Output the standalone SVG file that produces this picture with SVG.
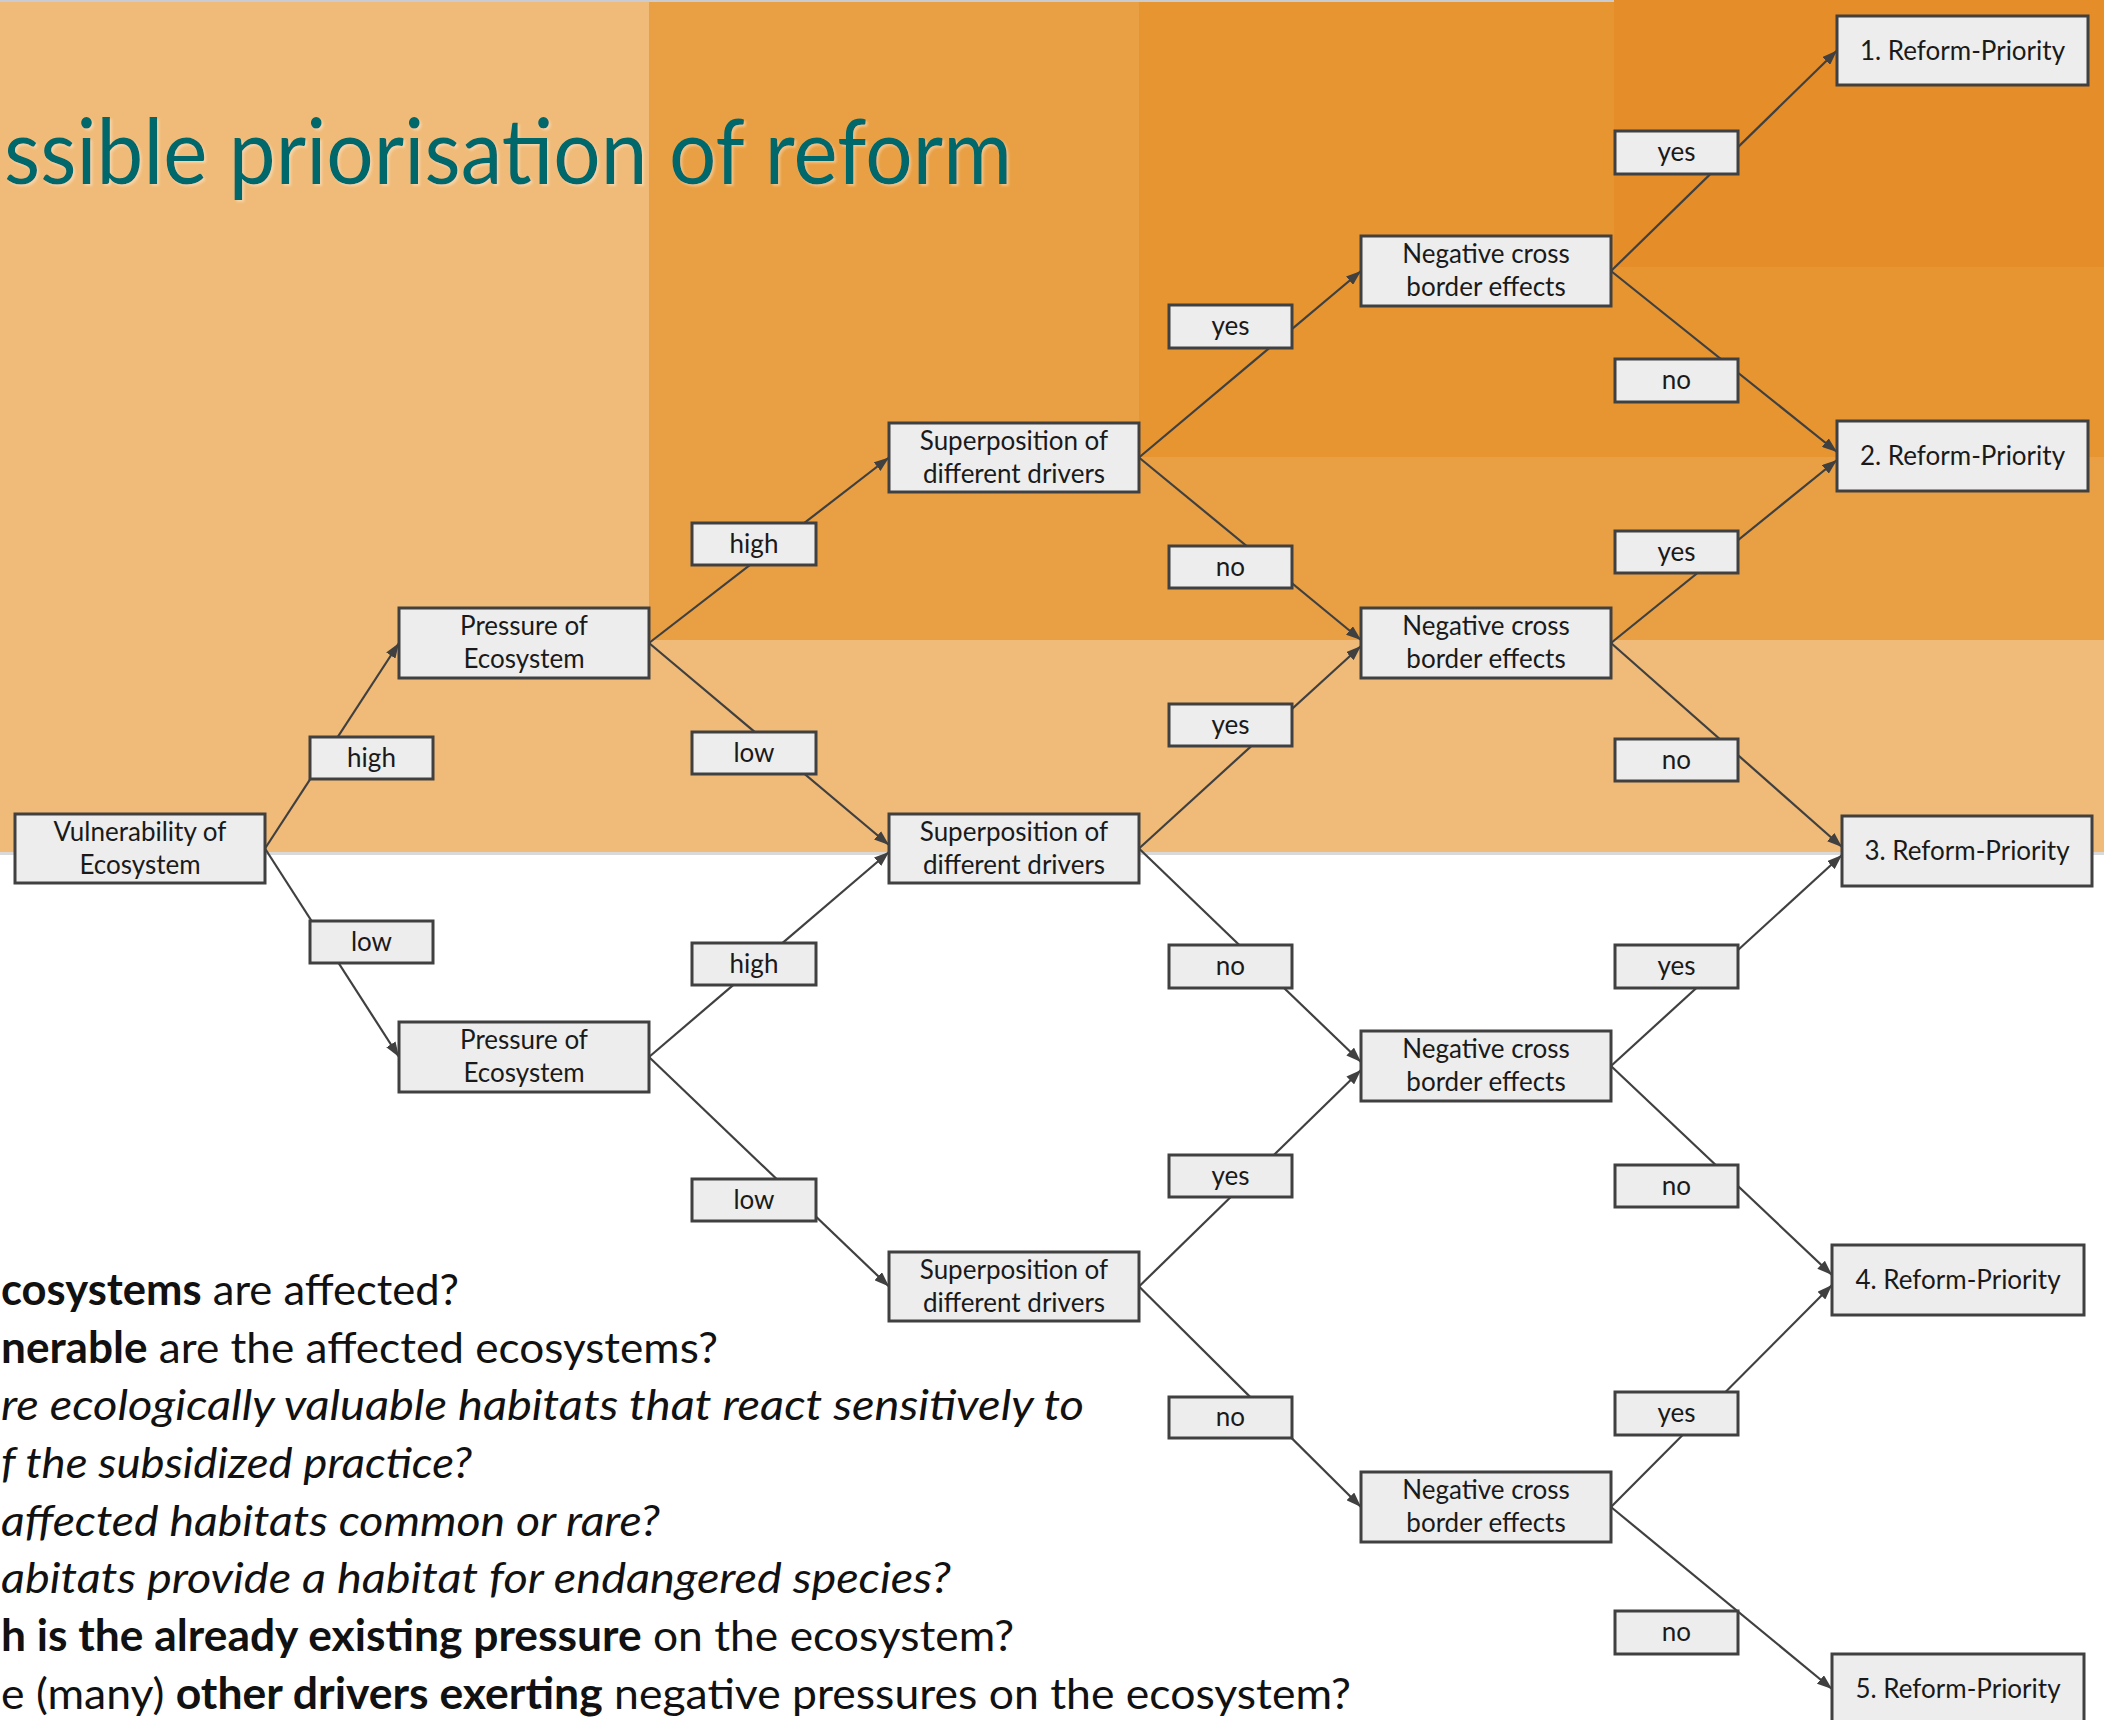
<svg xmlns="http://www.w3.org/2000/svg" width="2104" height="1720" viewBox="0 0 2104 1720">
  <defs>
    <style>
      .node rect { fill: #EDEDED; stroke: #404040; stroke-width: 3; }
      .lbl rect { fill: #EDEDED; stroke: #404040; stroke-width: 3; }
      .node text, .lbl text { font-family: Lato, "Open Sans", sans-serif; font-size: 26px; fill: #1A1A1A; text-anchor: middle; }
      .edge { stroke: #404040; stroke-width: 2.2; fill: none; marker-end: url(#arrow); }
      .title { font-family: Lato, "Open Sans", sans-serif; font-size: 92px; fill: #00676A; }
      .bullet { font-family: Lato, "Open Sans", sans-serif; font-size: 43px; fill: #111111; }
      .b { font-weight: bold; }
      .i { font-style: italic; }
    </style>
    <marker id="arrow" markerUnits="userSpaceOnUse" viewBox="0 0 15 11" markerWidth="15" markerHeight="11" refX="15" refY="5.5" orient="auto">
      <path d="M0,0 L15,5.5 L0,11 z" fill="#404040"/>
    </marker>
    <filter id="soft" x="-5%" y="-20%" width="110%" height="140%">
      <feDropShadow dx="2" dy="2" stdDeviation="1" flood-color="#FFFFFF" flood-opacity="0.35"/>
    </filter>
  </defs>

  <!-- background bands -->
  <g id="background">
    <rect x="0" y="0" width="2104" height="1720" fill="#FFFFFF"/>
    <rect x="0" y="0" width="2104" height="852" fill="#F0BB78"/>
    <rect x="0" y="852" width="2104" height="3" fill="#D9D9D9"/>
    <rect x="649" y="0" width="1455" height="640" fill="#E9A044"/>
    <rect x="1139" y="0" width="965" height="457" fill="#E79531"/>
    <rect x="1614" y="0" width="490" height="267" fill="#E58D28"/>
    <rect x="0" y="0" width="1614" height="2" fill="#C9CDD1"/>
  </g>

  <!-- title -->
  <text class="title" x="1012" y="184" text-anchor="end" textLength="1008" lengthAdjust="spacingAndGlyphs" filter="url(#soft)">ssible priorisation of reform</text>

  <!-- guiding questions -->
  <g id="questions">
    <text class="bullet" x="1" y="1305" textLength="458" lengthAdjust="spacingAndGlyphs"><tspan class="b">cosystems</tspan> are affected?</text>
    <text class="bullet" x="1" y="1363" textLength="717" lengthAdjust="spacingAndGlyphs"><tspan class="b">nerable</tspan> are the affected ecosystems?</text>
    <text class="bullet i" x="1" y="1420" textLength="1083" lengthAdjust="spacingAndGlyphs">re ecologically valuable habitats that react sensitively to</text>
    <text class="bullet i" x="1" y="1478" textLength="471" lengthAdjust="spacingAndGlyphs">f the subsidized practice?</text>
    <text class="bullet i" x="1" y="1536" textLength="659" lengthAdjust="spacingAndGlyphs">affected habitats common or rare?</text>
    <text class="bullet i" x="1" y="1593" textLength="950" lengthAdjust="spacingAndGlyphs">abitats provide a habitat for endangered species?</text>
    <text class="bullet" x="1" y="1651" textLength="1013" lengthAdjust="spacingAndGlyphs"><tspan class="b">h is the already existing pressure</tspan> on the ecosystem?</text>
    <text class="bullet" x="1" y="1709" textLength="1350" lengthAdjust="spacingAndGlyphs">e (many) <tspan class="b">other drivers exerting</tspan> negative pressures on the ecosystem?</text>
  </g>

  <!-- connectors -->
  <g id="connectors">
    <line class="edge" x1="265" y1="848.5" x2="399" y2="643"/>
    <line class="edge" x1="265" y1="848.5" x2="399" y2="1057"/>
    <line class="edge" x1="649" y1="643" x2="889" y2="457.5"/>
    <line class="edge" x1="649" y1="643" x2="889" y2="845"/>
    <line class="edge" x1="649" y1="1057" x2="889" y2="852"/>
    <line class="edge" x1="649" y1="1057" x2="889" y2="1286.5"/>
    <line class="edge" x1="1139" y1="457.5" x2="1361" y2="271"/>
    <line class="edge" x1="1139" y1="457.5" x2="1361" y2="640"/>
    <line class="edge" x1="1139" y1="848.5" x2="1361" y2="646"/>
    <line class="edge" x1="1139" y1="848.5" x2="1361" y2="1062"/>
    <line class="edge" x1="1139" y1="1286.5" x2="1361" y2="1070"/>
    <line class="edge" x1="1139" y1="1286.5" x2="1361" y2="1507"/>
    <line class="edge" x1="1611" y1="271" x2="1837" y2="50.5"/>
    <line class="edge" x1="1611" y1="271" x2="1837" y2="452"/>
    <line class="edge" x1="1611" y1="643" x2="1837" y2="460"/>
    <line class="edge" x1="1611" y1="643" x2="1842" y2="847"/>
    <line class="edge" x1="1611" y1="1066" x2="1842" y2="855"/>
    <line class="edge" x1="1611" y1="1066" x2="1832" y2="1275"/>
    <line class="edge" x1="1611" y1="1507" x2="1832" y2="1285"/>
    <line class="edge" x1="1611" y1="1507" x2="1832" y2="1689"/>
  </g>

  <!-- edge labels -->
  <g id="edge-labels">
    <g class="lbl" id="lbl-v-high"><rect x="310" y="737" width="123" height="42"/><text x="371.5" y="767">high</text></g>
    <g class="lbl" id="lbl-v-low"><rect x="310" y="921" width="123" height="42"/><text x="371.5" y="951">low</text></g>

    <g class="lbl" id="lbl-p1-high"><rect x="692" y="523" width="124" height="42"/><text x="754" y="553">high</text></g>
    <g class="lbl" id="lbl-p1-low"><rect x="692" y="732" width="124" height="42"/><text x="754" y="762">low</text></g>
    <g class="lbl" id="lbl-p2-high"><rect x="692" y="943" width="124" height="42"/><text x="754" y="973">high</text></g>
    <g class="lbl" id="lbl-p2-low"><rect x="692" y="1179" width="124" height="42"/><text x="754" y="1209">low</text></g>

    <g class="lbl" id="lbl-s1-yes"><rect x="1169" y="305" width="123" height="43"/><text x="1230.5" y="335">yes</text></g>
    <g class="lbl" id="lbl-s1-no"><rect x="1169" y="546" width="123" height="42"/><text x="1230.5" y="576">no</text></g>
    <g class="lbl" id="lbl-s2-yes"><rect x="1169" y="704" width="123" height="42"/><text x="1230.5" y="734">yes</text></g>
    <g class="lbl" id="lbl-s2-no"><rect x="1169" y="945" width="123" height="43"/><text x="1230.5" y="975">no</text></g>
    <g class="lbl" id="lbl-s3-yes"><rect x="1169" y="1155" width="123" height="42"/><text x="1230.5" y="1185">yes</text></g>
    <g class="lbl" id="lbl-s3-no"><rect x="1169" y="1397" width="123" height="41"/><text x="1230.5" y="1426">no</text></g>

    <g class="lbl" id="lbl-n1-yes"><rect x="1615" y="131" width="123" height="43"/><text x="1676.5" y="161">yes</text></g>
    <g class="lbl" id="lbl-n1-no"><rect x="1615" y="359" width="123" height="43"/><text x="1676.5" y="389">no</text></g>
    <g class="lbl" id="lbl-n2-yes"><rect x="1615" y="531" width="123" height="42"/><text x="1676.5" y="561">yes</text></g>
    <g class="lbl" id="lbl-n2-no"><rect x="1615" y="739" width="123" height="42"/><text x="1676.5" y="769">no</text></g>
    <g class="lbl" id="lbl-n3-yes"><rect x="1615" y="945" width="123" height="43"/><text x="1676.5" y="975">yes</text></g>
    <g class="lbl" id="lbl-n3-no"><rect x="1615" y="1165" width="123" height="42"/><text x="1676.5" y="1195">no</text></g>
    <g class="lbl" id="lbl-n4-yes"><rect x="1615" y="1392" width="123" height="43"/><text x="1676.5" y="1422">yes</text></g>
    <g class="lbl" id="lbl-n4-no"><rect x="1615" y="1611" width="123" height="43"/><text x="1676.5" y="1641">no</text></g>
  </g>

  <!-- decision nodes -->
  <g class="node" id="vulnerability"><rect x="15" y="814" width="250" height="69"/><text x="140" y="840.5">Vulnerability of</text><text x="140" y="873.5">Ecosystem</text></g>

  <g class="node" id="pressure-high"><rect x="399" y="608" width="250" height="70"/><text x="524" y="635">Pressure of</text><text x="524" y="668">Ecosystem</text></g>
  <g class="node" id="pressure-low"><rect x="399" y="1022" width="250" height="70"/><text x="524" y="1049">Pressure of</text><text x="524" y="1082">Ecosystem</text></g>

  <g class="node" id="superposition-1"><rect x="889" y="423" width="250" height="69"/><text x="1014" y="449.5">Superposition of</text><text x="1014" y="482.5">different drivers</text></g>
  <g class="node" id="superposition-2"><rect x="889" y="814" width="250" height="69"/><text x="1014" y="840.5">Superposition of</text><text x="1014" y="873.5">different drivers</text></g>
  <g class="node" id="superposition-3"><rect x="889" y="1252" width="250" height="69"/><text x="1014" y="1278.5">Superposition of</text><text x="1014" y="1311.5">different drivers</text></g>

  <g class="node" id="crossborder-1"><rect x="1361" y="236" width="250" height="70"/><text x="1486" y="263">Negative cross</text><text x="1486" y="296">border effects</text></g>
  <g class="node" id="crossborder-2"><rect x="1361" y="608" width="250" height="70"/><text x="1486" y="635">Negative cross</text><text x="1486" y="668">border effects</text></g>
  <g class="node" id="crossborder-3"><rect x="1361" y="1031" width="250" height="70"/><text x="1486" y="1058">Negative cross</text><text x="1486" y="1091">border effects</text></g>
  <g class="node" id="crossborder-4"><rect x="1361" y="1472" width="250" height="70"/><text x="1486" y="1499">Negative cross</text><text x="1486" y="1532">border effects</text></g>

  <!-- outcome nodes -->
  <g class="node" id="priority-1"><rect x="1837" y="16" width="251" height="69"/><text x="1962.5" y="59.5">1. Reform-Priority</text></g>
  <g class="node" id="priority-2"><rect x="1837" y="421" width="251" height="70"/><text x="1962.5" y="465">2. Reform-Priority</text></g>
  <g class="node" id="priority-3"><rect x="1842" y="816" width="250" height="70"/><text x="1967" y="860">3. Reform-Priority</text></g>
  <g class="node" id="priority-4"><rect x="1832" y="1245" width="252" height="70"/><text x="1958" y="1289">4. Reform-Priority</text></g>
  <g class="node" id="priority-5"><rect x="1832" y="1654" width="252" height="70"/><text x="1958" y="1698">5. Reform-Priority</text></g>
</svg>
